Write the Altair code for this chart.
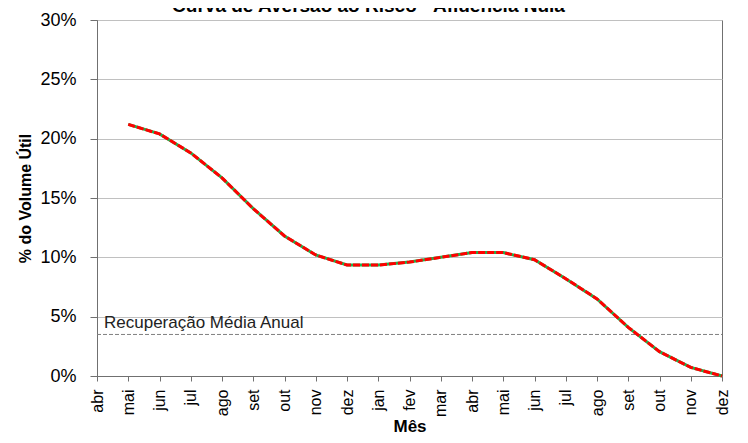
import altair as alt
import pandas as pd

months = ["abr", "mai", "jun", "jul", "ago", "set", "out", "nov", "dez", "jan", "fev",
          "mar", "abr", "mai", "jun", "jul", "ago", "set", "out", "nov", "dez"]
values = [None, 21.2, 20.4, 18.8, 16.7, 14.1, 11.8, 10.2, 9.35, 9.35, 9.6,
          10.0, 10.4, 10.4, 9.8, 8.2, 6.5, 4.1, 2.05, 0.72, 0.0]
ref_value = 3.5
ref_label = "Recuperação Média Anual"
y_ticks = [0, 5, 10, 15, 20, 25, 30]

df = pd.DataFrame({"idx": list(range(len(months))), "mes": months, "v": values}).dropna()
ref = pd.DataFrame({"idx": [0], "idx2": [len(months) - 1], "v": [ref_value], "t": [ref_label]})

FONT = "Liberation Sans"
label_expr = "[" + ",".join(f"'{m}'" for m in months) + "][datum.value]"

x_scale = alt.Scale(domain=[0, len(months) - 1], nice=False, zero=False)
y_scale = alt.Scale(domain=[0, 30], nice=False)
x_axis = alt.Axis(title="Mês", values=list(range(len(months))), labelExpr=label_expr,
                  labelAngle=-90, labelFontSize=16, labelPadding=8, tickSize=5,
                  labelOverlap=False, labelBound=False,
                  grid=False, titleFontSize=17, titleFontWeight="bold", titlePadding=2)
y_axis = alt.Axis(title="% do Volume Útil", values=y_ticks, labelExpr="datum.value + '%'",
                  labelFontSize=18, labelPadding=14, tickSize=7, gridColor="#c0c0c0",
                  labelOverlap=False,
                  titleFontSize=16, titleFontWeight="bold", titlePadding=6)
X = alt.X("idx:Q", axis=x_axis, scale=x_scale)
Y = alt.Y("v:Q", axis=y_axis, scale=y_scale)

rule = alt.Chart(ref).mark_rule(color="#808080", strokeWidth=1, strokeDash=[4, 2]).encode(
    x=X, x2="idx2:Q", y=Y)
txt = alt.Chart(ref).mark_text(align="left", baseline="bottom", dx=7, dy=-2, fontSize=17,
                               font=FONT, color="#222222").encode(x=X, y=Y, text="t:N")

base = alt.Chart(df)
green = base.mark_line(color="#22b04b", strokeWidth=3).encode(x=X, y=Y)
red = base.mark_line(color="#ff0000", strokeWidth=3, strokeDash=[7, 2]).encode(x=X, y=Y)

chart = alt.layer(rule, txt, green, red).properties(
    width=625, height=356,
    title=alt.TitleParams("Curva de Aversão ao Risco - Afluência Nula", fontSize=19,
                          fontWeight="bold", font=FONT, anchor="middle", baseline="bottom",
                          offset=0, dy=24, dx=-41, color="black"),
    autosize=alt.AutoSizeParams(type="none"),
    padding={"left": 89, "top": 12, "right": 18, "bottom": 59},
).configure(font=FONT).configure_view(stroke="#707070", strokeWidth=1).configure_axis(
    labelFont=FONT, titleFont=FONT, labelColor="black", titleColor="black",
    domainColor="#707070", tickColor="#707070").configure_axisX(labelOverlap=False)

chart.save("out.html", embed_options={"renderer": "svg", "actions": False})
